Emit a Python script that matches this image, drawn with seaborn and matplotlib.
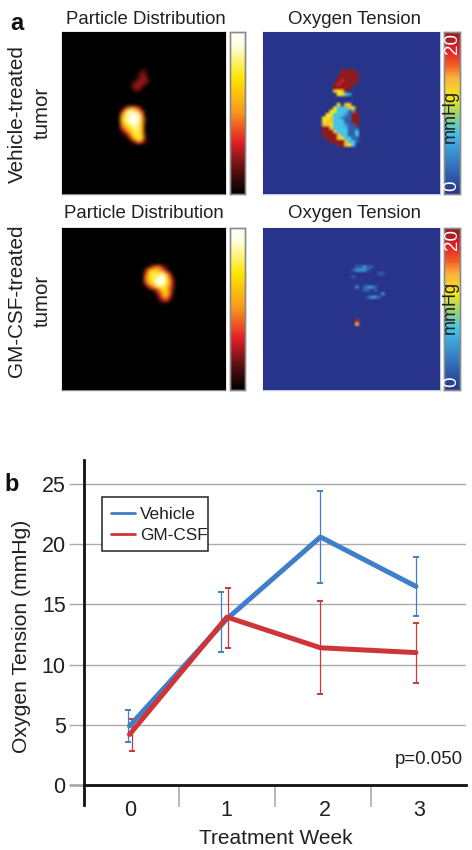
import numpy as np
import pandas as pd
import matplotlib
matplotlib.use("Agg")
import matplotlib.pyplot as plt
from matplotlib.colors import LinearSegmentedColormap
from matplotlib.lines import Line2D
from matplotlib.patches import Rectangle
from matplotlib.ticker import FixedLocator, NullFormatter
import seaborn as sns

# ---------- data: panel b ----------
weeks = [0, 1, 2, 3]
vehicle = [4.9, 13.8, 20.6, 16.5]
vehicle_low = [3.6, 11.05, 16.75, 14.05]
vehicle_high = [6.25, 16.05, 24.4, 18.95]
gmcsf = [4.2, 13.95, 11.4, 11.0]
gmcsf_low = [2.85, 11.4, 7.55, 8.5]
gmcsf_high = [5.45, 16.4, 15.25, 13.45]
y_ticks = [0, 5, 10, 15, 20, 25]

# ---------- data: panel a, intensity digits 0-9 on a 48 x 48 grid ----------
# each entry: first row, first column, rows of digits ('.' = 0)
vehicle_particles = [
    (11, 20, ["000110", "001210", "001220", "012221", "122210", "122100", "011000"]),
    (22, 17, ["02454300", "26887530", "47889840", "57899851", "57899851", "46788750",
              "35678750", "13567750", "01367751", "00146761", "00013531"]),
]
gmcsf_particles = [
    (11, 24, ["013442100", "256654200", "367778530", "467789741", "467899752",
              "356899752", "034677642", "001246641", "000135641", "000024530", "000012310"]),
]
vehicle_oxygen = [
    (11, 19, ["..9999.", "..99999", ".999999", ".989999", "989999.", "99999..", "6569...", ".5532.."]),
    (21, 16, ["....5.66..", "...533365.", "..55333129", ".553332199", "5563321199",
              "5663331199", "6653332119", "9963333111", "9996333113", "9999633113",
              ".999653311", "..99996331", "....99653."]),
]
gmcsf_oxygen = [
    (11, 24, [".11211.", "12221.."]),
    (13, 31, ["11"]),
    (14, 24, ["1"]),
    (17, 25, ["2.1221"]),
    (18, 27, ["11.1"]),
    (19, 32, ["2"]),
    (20, 28, ["1221"]),
    (27, 25, ["8", "6"]),
]
oxygen_levels = [0, 0.12, 0.25, 0.38, 0.5, 0.6, 0.68, 0.78, 0.89, 1.0]
particle_levels = [0, 1 / 9, 2 / 9, 3 / 9, 4 / 9, 5 / 9, 6 / 9, 7 / 9, 8 / 9, 1.0]
oxygen_ticks = ["0", "20"]

GRID = 48
W, H = 472, 850
TXT = "#231F20"

sns.set_theme(style="white")
plt.rcParams["font.family"] = ["Liberation Sans", "DejaVu Sans"]
plt.rcParams["text.color"] = TXT
plt.rcParams["axes.labelcolor"] = TXT
plt.rcParams["xtick.color"] = TXT
plt.rcParams["ytick.color"] = TXT

fig = plt.figure(figsize=(W / 100, H / 100), dpi=100)


def px_axes(x0, y0, x1, y1):
    return fig.add_axes([x0 / W, 1 - y1 / H, (x1 - x0) / W, (y1 - y0) / H])


def grid_from(patches, levels):
    g = np.zeros((GRID, GRID))
    for r0, c0, rows in patches:
        for i, row in enumerate(rows):
            for j, ch in enumerate(row):
                if ch != ".":
                    g[r0 + i, c0 + j] = levels[int(ch)]
    return g


oxy_cmap = LinearSegmentedColormap.from_list(
    "oxy",
    [(0, "#28348A"), (0.12, "#2F5FAE"), (0.28, "#3C9AD6"), (0.38, "#45C4E8"), (0.5, "#A5D46A"),
     (0.6, "#F2E81A"), (0.72, "#FBB040"), (0.8, "#F15A24"), (0.89, "#E21F26"), (1, "#8E1B1E")],
)
heat_cmap = LinearSegmentedColormap.from_list(
    "heat",
    [(0, "#000000"), (0.15, "#5A0F10"), (0.32, "#E21F26"), (0.5, "#F7941D"), (0.72, "#FFE600"),
     (0.92, "#FFFDE0"), (1, "#FFFFFF")],
)


def image_panel(patches, levels, box, cbar_box, cmap, vmax, edge, interp, n_ticks):
    ax = px_axes(*box)
    cax = px_axes(*cbar_box)
    g = grid_from(patches, levels)
    frame = pd.DataFrame(g * vmax)
    sns.heatmap(frame, ax=ax, cmap=cmap, vmin=0, vmax=vmax, cbar=True, cbar_ax=cax,
                xticklabels=False, yticklabels=False)
    ax.imshow(frame.values, extent=(0, GRID, GRID, 0), cmap=cmap, vmin=0, vmax=vmax,
              aspect="auto", interpolation=interp, interpolation_stage="rgba", zorder=3)
    ax.set_xlim(0, GRID)
    ax.set_ylim(GRID, 0)
    for s in ax.spines.values():
        s.set_visible(True)
        s.set_color(edge)
        s.set_linewidth(1.0)
    cax.yaxis.set_major_locator(FixedLocator(np.linspace(0, vmax, n_ticks)))
    cax.yaxis.set_major_formatter(NullFormatter())
    cax.tick_params(axis="y", which="major", direction="in", length=1.5, width=0.5,
                    color="#777777", left=True, right=True, labelleft=False, labelright=False)
    for s in cax.spines.values():
        s.set_visible(True)
        s.set_color("#8A8A8A")
        s.set_linewidth(1.0)
    return ax, cax


def ftext(x, y, s, **kw):
    return fig.text(x / W, 1 - y / H, s, ha=kw.pop("ha", "center"), va=kw.pop("va", "center"), **kw)


rows = [(32, 194, vehicle_particles, vehicle_oxygen, 3), (228, 390, gmcsf_particles, gmcsf_oxygen, -2)]
title_y = [19, 214]
title_dx = [0, -2]
for (y0, y1, part, oxy, mm_dy), ty, dx in zip(rows, title_y, title_dx):
    image_panel(part, particle_levels, (61.7, y0, 225, y1), (229.7, y0, 245.3, y1), heat_cmap, 1,
                "#8C8C8C", "bicubic", 8)
    image_panel(oxy, oxygen_levels, (263, y0, 440, y1), (444, y0, 459.7, y1), oxy_cmap, 20,
                "#C5C9DE", "bilinear", 9)
    ftext(145.5 + dx, ty, "Particle Distribution", fontsize=13.4)
    ftext(355 + (dx / 2), ty, "Oxygen Tension", fontsize=13.4)
    ftext(452, y0 + 12, oxygen_ticks[1], color="white", rotation=90, fontsize=13.5)
    ftext(452, y1 - 8, oxygen_ticks[0], color="white", rotation=90, fontsize=13.5)
    ftext(450.5, (y0 + y1) / 2 + mm_dy, "mmHg", color=TXT, rotation=90, fontsize=13)

ftext(17, 23, "a", fontsize=17, fontweight="bold", color="#111111")
ftext(12, 484, "b", fontsize=17, fontweight="bold", color="#111111")
ftext(17, 114, "Vehicle-treated", rotation=90, fontsize=14.9)
ftext(42, 113, "tumor", rotation=90, fontsize=14.8)
ftext(17, 301, "GM-CSF-treated", rotation=90, fontsize=14.9)
ftext(42, 301, "tumor", rotation=90, fontsize=14.8)

# ---------- panel b ----------
BLUE = "#3F7FC9"
RED = "#CF3438"
GRIDC = "#ABABAB"
ax = px_axes(83.7, 460, 466, 805)
week_nudge = np.array([0, 0.02, 0, 0])
x_line = np.array(weeks) + week_nudge
long = pd.DataFrame({
    "Week": np.r_[x_line, x_line],
    "Oxygen": vehicle + gmcsf,
    "Group": ["Vehicle"] * 4 + ["GM-CSF"] * 4,
})
ax.set_axisbelow(True)
for yv in y_ticks[1:]:
    ax.axhline(yv, color=GRIDC, lw=1.0, zorder=1)
dodge_v = np.array([-0.02, -0.04, 0, 0])
dodge_g = np.array([0.025, 0.03, 0, 0])
for mean, lo, hi, col, dodge in [(vehicle, vehicle_low, vehicle_high, BLUE, dodge_v),
                                 (gmcsf, gmcsf_low, gmcsf_high, RED, dodge_g)]:
    m = np.array(mean)
    ax.errorbar(np.array(weeks) + dodge, m, yerr=[m - np.array(lo), np.array(hi) - m], fmt="none",
                ecolor=col, elinewidth=0.9, capsize=2.2, capthick=1.4, zorder=2)
sns.lineplot(data=long, x="Week", y="Oxygen", hue="Group", palette={"Vehicle": BLUE, "GM-CSF": RED},
             hue_order=["Vehicle", "GM-CSF"], errorbar=None, lw=3.6, ax=ax, zorder=3, legend=False,
             sort=False)
ax.set_xlim(-0.48, 3.524)
ax.set_ylim(-1.66, 27)
ax.set_xlabel("")
ax.set_ylabel("")
for side in ("top", "right"):
    ax.spines[side].set_visible(False)
ax.spines["left"].set_linewidth(2.0)
ax.spines["left"].set_color("#111111")
ax.spines["bottom"].set_position(("data", 0))
ax.spines["bottom"].set_linewidth(2.0)
ax.spines["bottom"].set_color("#111111")
ax.set_xticks([0.01, 1.01, 2.05, 3.03])
ax.set_xticklabels([str(w) for w in weeks], fontsize=15.5)
ax.tick_params(axis="x", which="major", length=0, pad=11)
ax.set_xticks([0.52, 1.52, 2.53], minor=True)
ax.tick_params(axis="x", which="minor", length=15.5, width=1.2, color=GRIDC, direction="out", bottom=True)
ax.set_yticks(y_ticks)
ax.set_yticklabels([str(v) for v in y_ticks], fontsize=15.5)
ax.tick_params(axis="y", which="major", length=11, width=1.0, color=GRIDC, pad=2, left=True)
ax.get_yticklines()[0].set_color("#111111")
ax.get_yticklines()[0].set_markeredgewidth(2.0)
for t in ax.get_xticklabels() + ax.get_yticklabels():
    t.set_color(TXT)

# legend box drawn apart from the legend: the text nearly touches its right edge
box = Rectangle((102 / W, 1 - 551 / H), 106 / W, 54 / H, transform=fig.transFigure,
                facecolor="white", edgecolor="#222222", linewidth=1.1, zorder=4)
fig.add_artist(box)
handles = [Line2D([], [], color=BLUE, lw=2.0), Line2D([], [], color=RED, lw=2.0)]
leg = fig.legend(handles, ["Vehicle", "GM-CSF"], loc="upper left",
                 bbox_to_anchor=(111 / W, 1 - 507 / H), bbox_transform=fig.transFigure,
                 fontsize=12.4, frameon=False, borderaxespad=0, borderpad=0,
                 handlelength=1.4, handletextpad=0.3, labelspacing=0.36)
leg.set_zorder(5)

ftext(428.5, 760, "p=0.050", fontsize=13.4)
ftext(276, 838, "Treatment Week", fontsize=15)
ftext(21.5, 636, "Oxygen Tension (mmHg)", rotation=90, fontsize=15.2)

fig.savefig("out.png", dpi=100)
